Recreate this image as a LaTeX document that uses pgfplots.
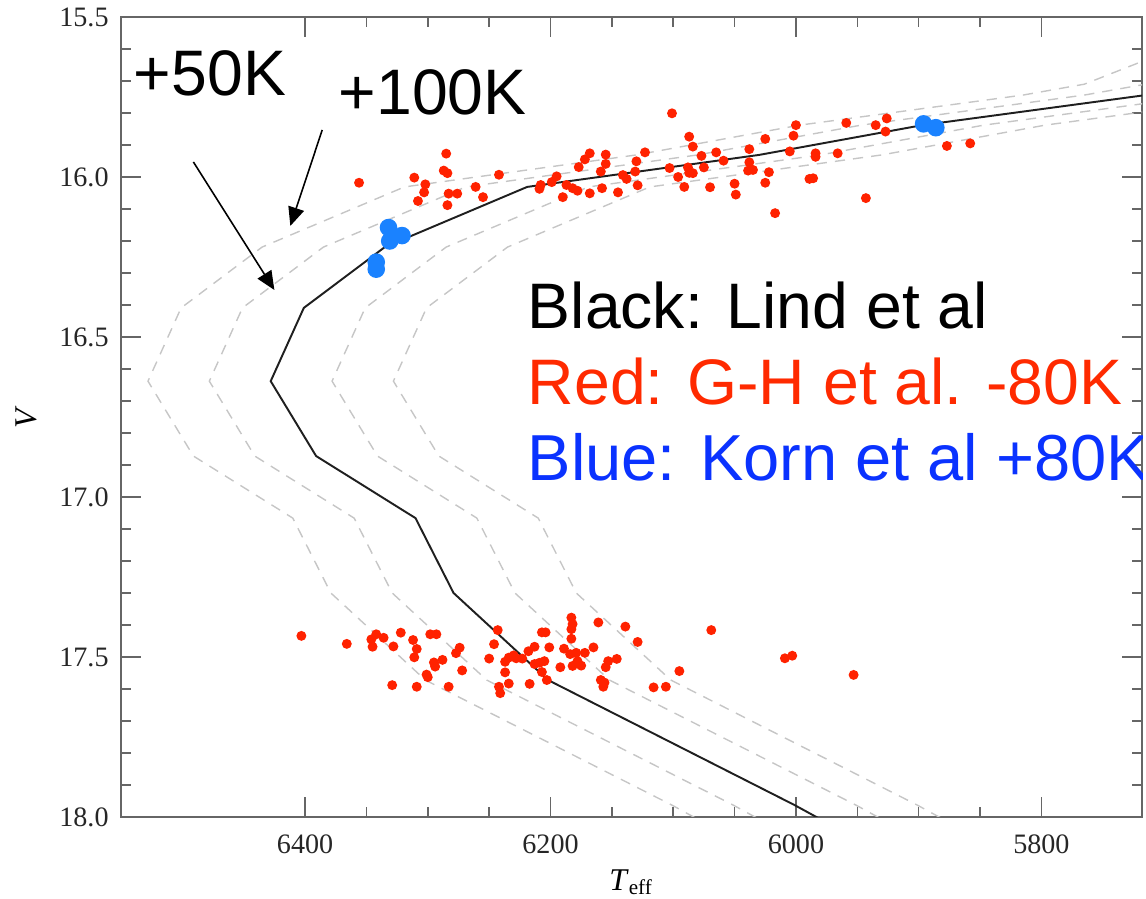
\documentclass[border=0pt]{standalone}
\usepackage{fontspec}
\setmainfont{Liberation Serif}
\newfontfamily\arial{Liberation Sans}
\usepackage{pgfplots}
\usepackage{pgfplotstable}
\pgfplotsset{compat=1.18}
\usetikzlibrary{arrows.meta}
\definecolor{redpt}{HTML}{FF2200}
\definecolor{bluept}{HTML}{1A82FF}
\definecolor{redtxt}{HTML}{FF2A00}
\definecolor{bluetxt}{HTML}{0A32FF}
\definecolor{dashgray}{HTML}{C6C6C6}

\pgfplotstableread{
T V
5580 15.580
5622 15.645
5665 15.710
5715 15.744
5897 15.838
6030 15.931
6219 16.031
6335 16.219
6401 16.409
6428 16.638
6391 16.872
6310 17.066
6279 17.300
6202 17.572
6001 17.963
5950 18.070
}\lind

\pgfplotstableread{
T V
5680 15.580
5722 15.645
5765 15.710
5815 15.744
5997 15.838
6130 15.931
6319 16.031
6435 16.219
6501 16.409
6528 16.638
6491 16.872
6410 17.066
6379 17.300
6302 17.572
6101 17.963
6050 18.070
}\plushundred

\pgfplotstableread{
T V
5630 15.580
5672 15.645
5715 15.710
5765 15.744
5947 15.838
6080 15.931
6269 16.031
6385 16.219
6451 16.409
6478 16.638
6441 16.872
6360 17.066
6329 17.300
6252 17.572
6051 17.963
6000 18.070
}\plusfifty

\pgfplotstableread{
T V
5530 15.580
5572 15.645
5615 15.710
5665 15.744
5847 15.838
5980 15.931
6169 16.031
6285 16.219
6351 16.409
6378 16.638
6341 16.872
6260 17.066
6229 17.300
6152 17.572
5951 17.963
5900 18.070
}\minusfifty

\pgfplotstableread{
T V
5480 15.580
5522 15.645
5565 15.710
5615 15.744
5797 15.838
5930 15.931
6119 16.031
6235 16.219
6301 16.409
6328 16.638
6291 16.872
6210 17.066
6179 17.300
6102 17.572
5901 17.963
5850 18.070
}\minushundred

\pgfplotstableread{
T V
6101 15.801
6087 15.874
6084 15.905
6025 15.881
6285 15.927
6311 16.002
6287 15.980
6284 15.988
6302 16.023
6303 16.048
6308 16.075
6283 16.052
6276 16.052
6284 16.088
6261 16.031
6255 16.063
6242 15.993
6208 16.025
6209 16.037
6199 16.016
6195 15.998
6187 16.025
6182 16.035
6178 16.043
6190 16.063
6177 15.969
6172 15.945
6168 15.926
6155 15.930
6155 15.959
6159 15.983
6168 16.051
6158 16.035
6145 16.048
6141 15.994
6138 16.006
6131 15.983
6130 15.951
6123 15.923
6129 16.026
6103 15.972
6096 16.000
6091 16.031
6088 15.970
6087 15.987
6084 15.988
6077 15.934
6075 15.970
6070 16.032
6065 15.923
6059 15.949
6050 16.021
6049 16.055
6038 15.913
6038 15.954
6039 15.980
6035 15.978
6025 16.018
6022 15.985
6017 16.113
6000 15.838
6002 15.871
5959 15.831
5935 15.838
5926 15.817
5927 15.858
6005 15.920
5984 15.926
5984 15.937
5966 15.926
5989 16.006
5986 16.004
5943 16.066
5877 15.903
5858 15.895
6356 16.018
6403 17.434
6366 17.459
6346 17.445
6342 17.429
6345 17.468
6336 17.440
6322 17.424
6328 17.467
6312 17.447
6309 17.475
6311 17.501
6298 17.429
6293 17.429
6295 17.517
6294 17.530
6288 17.509
6301 17.555
6300 17.563
6329 17.588
6309 17.593
6283 17.593
6274 17.471
6277 17.488
6272 17.542
6243 17.416
6246 17.460
6250 17.505
6237 17.515
6234 17.502
6230 17.495
6228 17.504
6223 17.505
6218 17.482
6213 17.468
6237 17.548
6234 17.583
6242 17.593
6241 17.613
6217 17.584
6213 17.522
6209 17.518
6205 17.513
6207 17.547
6203 17.572
6207 17.423
6204 17.423
6201 17.470
6189 17.474
6192 17.532
6183 17.377
6182 17.397
6183 17.413
6183 17.443
6184 17.491
6179 17.487
6172 17.487
6178 17.513
6182 17.528
6175 17.527
6165 17.470
6161 17.392
6153 17.513
6155 17.532
6146 17.506
6139 17.405
6129 17.453
6159 17.572
6156 17.580
6157 17.593
6116 17.595
6106 17.593
6095 17.544
6069 17.416
6009 17.504
6003 17.496
5953 17.556
}\redstars

\pgfplotstableread{
T V
5896 15.834
5886 15.846
6332 16.158
6321 16.183
6331 16.200
6342 16.266
6342 16.288
}\bluestars

\begin{document}
\begin{tikzpicture}
\begin{axis}[
  at={(0,0)}, anchor=south west,
  scale only axis, width=102.1mm, height=80mm,
  xmin=5718, xmax=6550, x dir=reverse,
  ymin=15.5, ymax=18.0, y dir=reverse,
  xtick={5800,6000,6200,6400}, minor x tick num=3,
  ytick={15.5,16.0,16.5,17.0,17.5,18.0}, minor y tick num=4,
  tick align=inside, major tick length=2mm, minor tick length=1mm,
  axis line style={draw=black!60, line width=0.55pt},
  tick style={draw=black!60, line width=0.45pt},
  ticklabel style={font=\fontsize{8}{9}\selectfont, text=black!85},
  /pgf/number format/assume math mode=true,
  xticklabel style={/pgf/number format/1000 sep={}, yshift=-1.5pt},
  yticklabel style={/pgf/number format/fixed, /pgf/number format/fixed zerofill, /pgf/number format/precision=1},
  xlabel={\textit{T}\textsubscript{eff}},
  xlabel style={at={(axis description cs:0.5,-0.092)}, anchor=base, font=\fontsize{9}{10}\selectfont},
  ylabel={\textit{V}},
  ylabel style={at={(axis description cs:-0.0924,0.5)}, anchor=center, font=\fontsize{9}{10}\selectfont},
]
\addplot[dashgray, line width=0.4pt, dash pattern=on 2.9pt off 2.3pt] table[x=T,y=V] {\plushundred};
\addplot[dashgray, line width=0.4pt, dash pattern=on 2.9pt off 2.3pt] table[x=T,y=V] {\plusfifty};
\addplot[dashgray, line width=0.4pt, dash pattern=on 2.9pt off 2.3pt] table[x=T,y=V] {\minusfifty};
\addplot[dashgray, line width=0.4pt, dash pattern=on 2.9pt off 2.3pt] table[x=T,y=V] {\minushundred};
\addplot[black!88, line width=0.55pt] table[x=T,y=V] {\lind};
\addplot[only marks, mark=*, mark size=1.2pt, mark options={draw=redpt, fill=redpt}] table[x=T,y=V] {\redstars};
\addplot[only marks, mark=*, mark size=2.3pt, mark options={draw=bluept, fill=bluept}] table[x=T,y=V] {\bluestars};

\draw[line width=0.45pt, -{Triangle[length=5.3pt,width=4.6pt]}] (6386,15.853) -- (6412,16.153);
\draw[line width=0.45pt, -{Triangle[length=5.3pt,width=4.6pt]}] (6491,15.953) -- (6425,16.353);

\node[anchor=base west, inner sep=0, font=\arial\fontsize{18.3}{20}\selectfont] at (6540,15.744) {+50K};
\node[anchor=base west, inner sep=0, font=\arial\fontsize{18.3}{20}\selectfont] at (6373,15.806) {+100K};
\node[anchor=base west, inner sep=0, font=\arial\fontsize{18.3}{20}\selectfont] at (6219,16.475) {Black: Lind et al};
\node[anchor=base west, inner sep=0, font=\arial\fontsize{18.3}{20}\selectfont, text=redtxt] at (6219,16.7125) {Red: G-H et al. -80K};
\node[anchor=base west, inner sep=0, font=\arial\fontsize{18.5}{20}\selectfont, text=bluetxt] at (6219,16.947) {Blue: Korn et al +80K};
\end{axis}
\pgfresetboundingbox
\useasboundingbox (-12.1mm,-8.2mm) rectangle (102.5mm,81.7mm);
\end{tikzpicture}
\end{document}
